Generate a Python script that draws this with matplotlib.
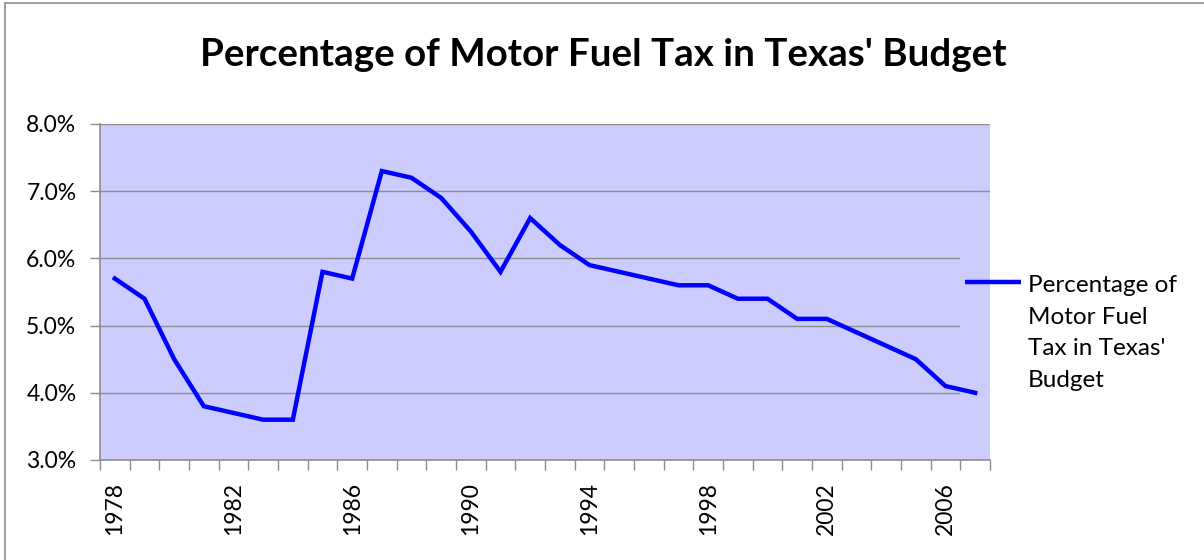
import matplotlib
matplotlib.use("Agg")
import matplotlib.pyplot as plt
from matplotlib.patches import Rectangle
from matplotlib.lines import Line2D
from matplotlib.ticker import FixedLocator, FuncFormatter

years = list(range(1978, 2008))
pct = [5.7, 5.4, 4.5, 3.8, 3.7, 3.6, 3.6, 5.8, 5.7, 7.3,
       7.2, 6.9, 6.4, 5.8, 6.6, 6.2, 5.9, 5.8, 5.7, 5.6,
       5.6, 5.4, 5.4, 5.1, 5.1, 4.9, 4.7, 4.5, 4.1, 4.0]
label_years = [1978, 1982, 1986, 1990, 1994, 1998, 2002, 2006]
title = "Percentage of Motor Fuel Tax in Texas' Budget"
series_name = "Percentage of\nMotor Fuel\nTax in Texas'\nBudget"

plt.rcParams['font.family'] = ['Lato', 'DejaVu Sans']

W, H = 1204, 560
fig = plt.figure(figsize=(W / 100, H / 100), dpi=100)
fig.patch.set_facecolor('white')

# outer chart frame
fig.add_artist(Rectangle((5 / W, -0.05), 1.2, (H - 3) / H + 0.05, transform=fig.transFigure,
                         fill=False, edgecolor='#8c8c8c', linewidth=1.2))

ax = fig.add_axes([100 / W, 1 - 460 / H, 890 / W, 336 / H])
ax.set_facecolor('#ccccff')

idx = list(range(len(years)))
line_color = '#0000ff'
line, = ax.plot(idx, pct, color=line_color, linewidth=3.2, solid_joinstyle='miter',
                label=series_name, zorder=3)

ax.set_xlim(-0.5, len(years) - 0.5)
ax.set_ylim(3.0, 8.0)
yt = [3, 4, 5, 6, 7, 8]
ax.set_yticks(yt)
ax.yaxis.set_major_formatter(FuncFormatter(lambda v, p: f"{v:.1f}%"))

# gridlines (lower ones hidden behind legend area at the right)
for v in yt[1:]:
    xmax = 1.0 if v >= 7 else (959 - 100) / 890
    ax.axhline(v, xmin=0, xmax=xmax, color='#8c8c8c', linewidth=1.0, zorder=1)

# category boundary ticks, labels at category centres
ax.xaxis.set_major_locator(FixedLocator([i - 0.5 for i in range(len(years) + 1)]))
ax.xaxis.set_major_formatter(FuncFormatter(lambda v, p: ""))
ax.xaxis.set_minor_locator(FixedLocator([years.index(y) for y in label_years]))
ax.xaxis.set_minor_formatter(FuncFormatter(lambda v, p: str(years[int(round(v))])))
ax.tick_params(axis='x', which='major', direction='out', length=7, width=1, color='#8c8c8c')
ax.tick_params(axis='x', which='minor', length=0, labelsize=16.5, labelrotation=90, pad=16)
ax.tick_params(axis='y', direction='out', length=7, width=1, color='#8c8c8c', labelsize=16.5, pad=10)

for s in ['top', 'right']:
    ax.spines[s].set_visible(False)
for s in ['left', 'bottom']:
    ax.spines[s].set_color('#8c8c8c')
    ax.spines[s].set_linewidth(1.2)

fig.text(603 / W, 1 - 66 / H, title, ha='center', va='baseline', fontsize=27.7, fontweight='bold')

# legend: handle aligned with the first line of the label
fig.add_artist(Line2D([965 / W, 1021 / W], [1 - 282 / H, 1 - 282 / H], transform=fig.transFigure,
                      color=line.get_color(), linewidth=line.get_linewidth(), solid_capstyle='butt'))
for i, part in enumerate(line.get_label().split("\n")):
    fig.text(1028 / W, 1 - (292 + 31.7 * i) / H, part, ha='left', va='baseline', fontsize=17.5)

fig.savefig("out.png", dpi=100)
